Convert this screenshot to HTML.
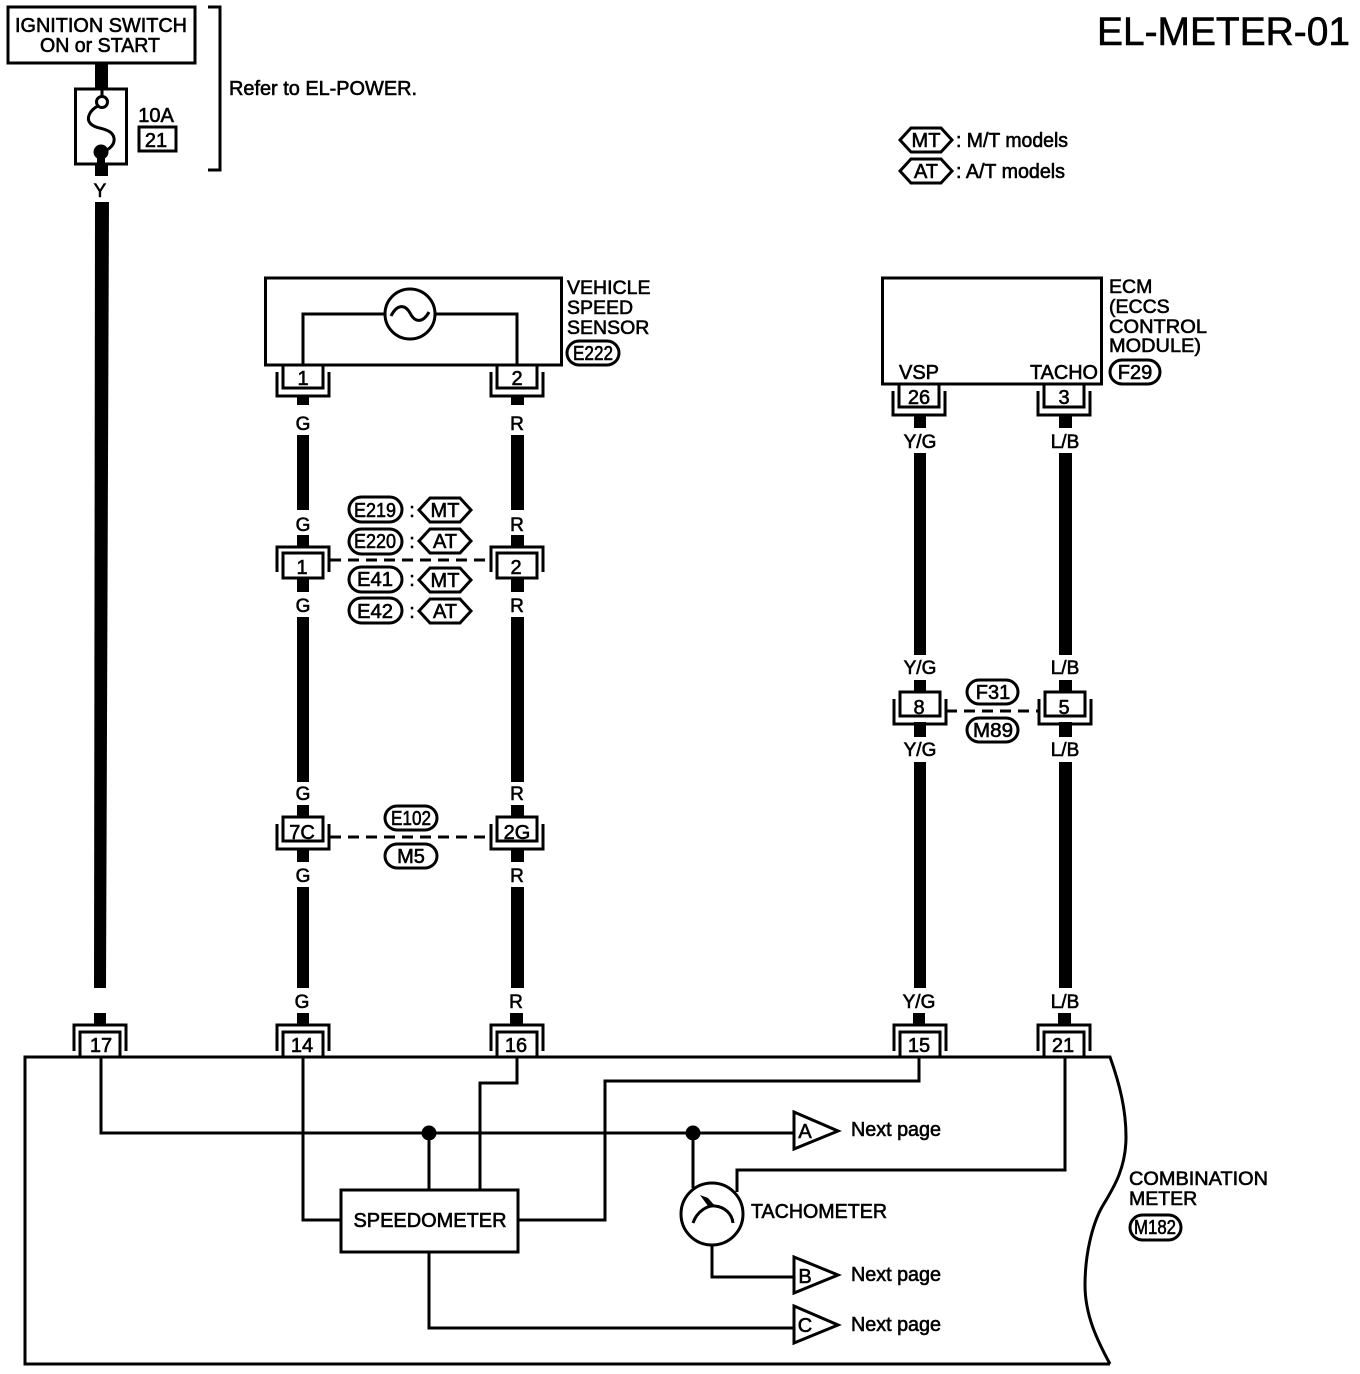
<!DOCTYPE html>
<html><head><meta charset="utf-8"><style>
html,body{margin:0;padding:0;background:#fff}
svg{display:block}
text{font-family:"Liberation Sans",sans-serif;fill:#000;stroke:#000;stroke-width:.6;font-size:20px}
.m{text-anchor:middle}
.l{fill:none;stroke:#000;stroke-width:3}
.w{fill:#000}
.s{font-size:19px}
</style></head><body>
<svg width="1360" height="1374" viewBox="0 0 1360 1374" xmlns="http://www.w3.org/2000/svg">
<defs>
<g id="ca"><path class="l" d="M-20 0V23H20V0M-26 7V31H26V7"/></g>
<g id="cb"><path class="l" d="M-26 26V0H26V26M-20 32V7H20V32"/></g>
<g id="cc"><rect class="l" x="-20" y="6" width="40" height="25" fill="#fff"/><path class="l" d="M-26 25V0H26V25"/></g>
<g id="cd"><rect class="l" x="-20" y="0" width="40" height="24"/><path class="l" d="M-26 7V32H26V7"/></g>
<g id="hx"><path class="l" d="M-26 0L-15 -12H15L26 0L15 12H-15Z"/></g>
</defs>

<text x="1097" y="45" style="font-size:40px" textLength="253" lengthAdjust="spacingAndGlyphs">EL-METER-01</text>

<!-- ignition -->
<rect class="l" x="8" y="7" width="187" height="56"/>
<text x="101" y="32" class="m" textLength="172" lengthAdjust="spacingAndGlyphs">IGNITION SWITCH</text>
<text x="100" y="52" class="m" textLength="120" lengthAdjust="spacingAndGlyphs">ON or START</text>
<path class="l" d="M208 7H220V170H208"/>
<text x="229" y="95" textLength="188" lengthAdjust="spacingAndGlyphs">Refer to EL-POWER.</text>
<rect class="w" x="95" y="63" width="13" height="25"/>
<rect class="l" x="75.500" y="89" width="51" height="75"/>
<path class="l" d="M102 89V96"/>
<circle class="l" cx="102" cy="102" r="5.500"/>
<circle class="w" cx="101" cy="152" r="7.500"/>
<rect class="w" x="97" y="152" width="8" height="13"/>
<path class="l" d="M98 106C90 110 86 118 90 123C95 130 112 127 114 138C115 145 109 149 105 151"/>
<rect class="w" x="95" y="165" width="13" height="11"/>
<text x="156" y="122" class="m">10A</text>
<rect class="l" x="139" y="127" width="37" height="24"/>
<text x="156" y="147" class="m">21</text>
<text x="100" y="197" class="m s">Y</text>
<polygon class="w" points="95,202 109,202 106,988 94,988"/>

<!-- legend -->
<use href="#hx" x="926" y="140"/><text x="926" y="147" class="m">MT</text>
<text x="956" y="147" textLength="112" lengthAdjust="spacingAndGlyphs">: M/T models</text>
<use href="#hx" x="926" y="171"/><text x="926" y="178" class="m">AT</text>
<text x="956" y="178" textLength="109" lengthAdjust="spacingAndGlyphs">: A/T models</text>

<!-- VSS -->
<rect class="l" x="265.500" y="278" width="296" height="87"/>
<path class="l" d="M303 365V314H385M435 314H517V365"/>
<circle class="l" cx="410" cy="314" r="25" fill="#fff"/>
<path class="l" d="M391 316C397 304 405 304 410 313C415 323 423 323 429 312"/>
<text x="567" y="294" style="font-size:19.500px">VEHICLE</text>
<text x="567" y="314" style="font-size:19.500px">SPEED</text>
<text x="567" y="334" style="font-size:19.500px">SENSOR</text>
<rect class="l" x="567" y="341" width="52" height="24" rx="12"/><text x="593" y="360" class="m" textLength="40" lengthAdjust="spacingAndGlyphs">E222</text>

<use href="#ca" x="303" y="365"/><text x="303" y="385" class="m">1</text>
<use href="#ca" x="517" y="365"/><text x="517" y="385" class="m">2</text>

<!-- ECM -->
<rect class="l" x="882.500" y="278" width="219" height="106"/>
<text x="919" y="379" class="m">VSP</text>
<text x="1064" y="379" class="m" textLength="68" lengthAdjust="spacingAndGlyphs">TACHO</text>
<text x="1109" y="293" style="font-size:19.500px">ECM</text>
<text x="1109" y="313" style="font-size:19.500px">(ECCS</text>
<text x="1109" y="333" style="font-size:19.500px" textLength="98" lengthAdjust="spacingAndGlyphs">CONTROL</text>
<text x="1109" y="352" style="font-size:19.500px" textLength="92" lengthAdjust="spacingAndGlyphs">MODULE)</text>
<rect class="l" x="1110" y="360" width="50" height="24" rx="12"/><text x="1135" y="379" class="m">F29</text>
<use href="#ca" x="919" y="384"/><text x="919" y="404" class="m">26</text>
<use href="#ca" x="1064" y="384"/><text x="1064" y="404" class="m">3</text>

<!-- wires G -->
<rect class="w" x="297" y="396" width="12" height="9"/>
<text x="303" y="430" class="m s">G</text>
<rect class="w" x="297" y="435" width="12" height="75"/>
<text x="303" y="531" class="m s">G</text>
<rect class="w" x="297" y="535" width="12" height="13"/>
<rect class="w" x="297" y="578" width="12" height="14"/>
<text x="303" y="612" class="m s">G</text>
<rect class="w" x="297" y="617" width="12" height="165"/>
<text x="303" y="800" class="m s">G</text>
<rect class="w" x="297" y="805" width="12" height="12"/>
<rect class="w" x="297" y="848" width="12" height="14"/>
<text x="303" y="882" class="m s">G</text>
<rect class="w" x="297" y="887" width="12" height="101"/>
<text x="302" y="1008" class="m s">G</text>
<rect class="w" x="297" y="1013" width="12" height="12"/>

<!-- wires R -->
<rect class="w" x="511" y="396" width="13" height="9"/>
<text x="517" y="430" class="m s">R</text>
<rect class="w" x="511" y="435" width="13" height="75"/>
<text x="517" y="531" class="m s">R</text>
<rect class="w" x="511" y="535" width="13" height="13"/>
<rect class="w" x="511" y="578" width="13" height="14"/>
<text x="517" y="612" class="m s">R</text>
<rect class="w" x="511" y="617" width="13" height="165"/>
<text x="517" y="800" class="m s">R</text>
<rect class="w" x="511" y="805" width="13" height="12"/>
<rect class="w" x="511" y="848" width="13" height="14"/>
<text x="517" y="882" class="m s">R</text>
<rect class="w" x="511" y="887" width="13" height="101"/>
<text x="516" y="1008" class="m s">R</text>
<rect class="w" x="510" y="1013" width="13" height="12"/>

<!-- wires Y/G -->
<rect class="w" x="914" y="415" width="12" height="13"/>
<text x="920" y="448" class="m s">Y/G</text>
<rect class="w" x="914" y="453" width="12" height="202"/>
<text x="920" y="674" class="m s">Y/G</text>
<rect class="w" x="914" y="680" width="12" height="13"/>
<rect class="w" x="914" y="722" width="12" height="15"/>
<text x="920" y="756" class="m s">Y/G</text>
<rect class="w" x="914" y="762" width="12" height="226"/>
<text x="919" y="1008" class="m s">Y/G</text>
<rect class="w" x="913" y="1013" width="12" height="12"/>

<!-- wires L/B -->
<rect class="w" x="1059" y="415" width="13" height="13"/>
<text x="1065" y="448" class="m s">L/B</text>
<rect class="w" x="1059" y="453" width="13" height="202"/>
<text x="1065" y="674" class="m s">L/B</text>
<rect class="w" x="1059" y="680" width="13" height="13"/>
<rect class="w" x="1059" y="722" width="13" height="15"/>
<text x="1065" y="756" class="m s">L/B</text>
<rect class="w" x="1059" y="762" width="13" height="226"/>
<text x="1065" y="1008" class="m s">L/B</text>
<rect class="w" x="1058" y="1013" width="13" height="12"/>

<!-- inline connectors row 1 -->
<use href="#cc" x="303" y="547"/><text x="302" y="574" class="m">1</text>
<use href="#cc" x="517" y="547"/><text x="516" y="574" class="m">2</text>
<path d="M330 560H490" fill="none" stroke="#000" stroke-width="3" stroke-dasharray="11 7"/>
<rect class="l" x="349" y="497" width="53" height="25" rx="12.500"/><text x="375" y="517" class="m" textLength="42" lengthAdjust="spacingAndGlyphs">E219</text>
<rect class="l" x="349" y="529" width="53" height="25" rx="12.500"/><text x="375" y="548" class="m" textLength="42" lengthAdjust="spacingAndGlyphs">E220</text>
<rect class="l" x="349" y="567" width="53" height="25" rx="12.500"/><text x="375" y="586" class="m" textLength="36" lengthAdjust="spacingAndGlyphs">E41</text>
<rect class="l" x="349" y="598" width="53" height="25" rx="12.500"/><text x="375" y="618" class="m" textLength="36" lengthAdjust="spacingAndGlyphs">E42</text>
<text x="412" y="517" class="m">:</text><text x="412" y="548" class="m">:</text><text x="412" y="586" class="m">:</text><text x="412" y="618" class="m">:</text>
<use href="#hx" x="445" y="510"/><text x="445" y="517" class="m">MT</text>
<use href="#hx" x="445" y="541"/><text x="445" y="548" class="m">AT</text>
<use href="#hx" x="445" y="580"/><text x="445" y="587" class="m">MT</text>
<use href="#hx" x="445" y="611"/><text x="445" y="618" class="m">AT</text>

<!-- inline connectors row 2 -->
<use href="#cd" x="303" y="817"/><text x="302" y="839" class="m">7C</text>
<use href="#cd" x="517" y="817"/><text x="517" y="839" class="m">2G</text>
<path d="M330 837H490" fill="none" stroke="#000" stroke-width="3" stroke-dasharray="11 7"/>
<rect class="l" x="385" y="806" width="52" height="24" rx="12"/><text x="411" y="825" class="m" textLength="40" lengthAdjust="spacingAndGlyphs">E102</text>
<rect class="l" x="385" y="844" width="52" height="24" rx="12"/><text x="411" y="863" class="m">M5</text>

<!-- F31/M89 -->
<use href="#cd" x="920" y="692"/><text x="919" y="714" class="m">8</text>
<use href="#cd" x="1065" y="692"/><text x="1064" y="714" class="m">5</text>
<path d="M946 711H1039" fill="none" stroke="#000" stroke-width="3" stroke-dasharray="11 7"/>
<rect class="l" x="967" y="680" width="51" height="24" rx="12"/><text x="993" y="699" class="m">F31</text>
<rect class="l" x="967" y="718" width="51" height="24" rx="12"/><text x="993" y="737" class="m" textLength="40" lengthAdjust="spacingAndGlyphs">M89</text>

<!-- bottom connectors -->
<use href="#cb" x="100" y="1025"/><text x="101" y="1052" class="m">17</text>
<use href="#cb" x="303" y="1025"/><text x="302" y="1052" class="m">14</text>
<use href="#cb" x="517" y="1025"/><text x="516" y="1052" class="m">16</text>
<use href="#cb" x="920" y="1025"/><text x="919" y="1052" class="m">15</text>
<use href="#cb" x="1064" y="1025"/><text x="1063" y="1052" class="m">21</text>
<rect class="w" x="94" y="1013" width="12" height="12"/>

<!-- body -->
<path class="l" d="M1110 1364H25V1057H1110C1120 1085 1126 1110 1126 1137C1126 1170 1112 1190 1102 1207C1092 1225 1085 1255 1085 1285C1085 1315 1097 1340 1110 1364"/>
<text x="1129" y="1185" style="font-size:19.500px" textLength="139" lengthAdjust="spacingAndGlyphs">COMBINATION</text>
<text x="1129" y="1205" style="font-size:19.500px">METER</text>
<rect class="l" x="1130" y="1215" width="51" height="25" rx="12.500"/><text x="1155" y="1234" class="m" textLength="42" lengthAdjust="spacingAndGlyphs">M182</text>

<!-- inner wiring -->
<path class="l" d="M101 1057V1133H793"/>
<path class="l" d="M303 1057V1220H341"/>
<path class="l" d="M429 1133V1190"/>
<path class="l" d="M517 1057V1083H480V1190"/>
<path class="l" d="M919 1057V1081H605V1220H518"/>
<path class="l" d="M1065 1057V1170H737V1192"/>
<path class="l" d="M693 1133V1188"/>
<path class="l" d="M712 1245V1277H793"/>
<path class="l" d="M429 1252V1328H793"/>
<circle class="w" cx="429" cy="1133" r="7.500"/>
<circle class="w" cx="693" cy="1133" r="7.500"/>
<rect class="l" x="341" y="1190" width="177" height="62" fill="#fff"/>
<text x="430" y="1227" class="m" textLength="153" lengthAdjust="spacingAndGlyphs">SPEEDOMETER</text>
<circle class="l" cx="712" cy="1214" r="31" fill="#fff"/>
<path class="l" d="M693 1223C697 1211 708 1205 715 1206C725 1207 732 1214 733 1223"/>
<path d="M700 1195L708 1198L716 1207L708 1206Z" fill="#000"/>
<text x="751" y="1218" textLength="136" lengthAdjust="spacingAndGlyphs">TACHOMETER</text>

<polygon class="l" points="794,1112 838,1131 794,1149"/><text x="805" y="1138" class="m">A</text>
<polygon class="l" points="794,1257 838,1275 794,1293"/><text x="805" y="1283" class="m">B</text>
<polygon class="l" points="794,1306 838,1325 794,1343"/><text x="805" y="1332" class="m">C</text>
<text x="851" y="1136" textLength="90" lengthAdjust="spacingAndGlyphs">Next page</text>
<text x="851" y="1281" textLength="90" lengthAdjust="spacingAndGlyphs">Next page</text>
<text x="851" y="1331" textLength="90" lengthAdjust="spacingAndGlyphs">Next page</text>
</svg>
</body></html>
